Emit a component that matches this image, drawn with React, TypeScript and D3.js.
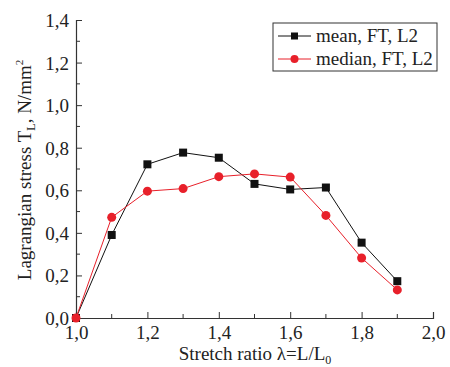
import * as d3 from 'd3';
import React, { useEffect, useRef } from 'react';

const stretch = [1.0, 1.1, 1.2, 1.3, 1.4, 1.5, 1.6, 1.7, 1.8, 1.9];
const meanFT = [0, 0.39, 0.722, 0.777, 0.753, 0.63, 0.604, 0.613, 0.354, 0.173];
const medianFT = [0, 0.473, 0.596, 0.608, 0.664, 0.677, 0.662, 0.482, 0.282, 0.132];
const xTicks = [1.0, 1.2, 1.4, 1.6, 1.8, 2.0];
const yTicks = [0, 0.2, 0.4, 0.6, 0.8, 1.0, 1.2, 1.4];
const seriesNames = ['mean, FT, L2', 'median, FT, L2'];

const fmt = (v: number) => v.toFixed(1).replace('.', ',');

export default () => {
    const ref = useRef<any>();

    useEffect(() => {
        const svg = d3.select<any, any>(ref.current);
        svg.selectAll('*').remove();
        const font = '"Liberation Serif", "Times New Roman", serif';

        const x = d3.scaleLinear().domain([1.0, 2.0]).range([76, 433]);
        const y = d3.scaleLinear().domain([0, 1.4]).range([318, 20]);

        // axes
        const axX = d3.axisBottom(x).tickValues(xTicks).tickSize(-6).tickFormat((d: any) => fmt(d));
        const axY = d3.axisLeft(y).tickValues(yTicks).tickSize(-6).tickFormat((d: any) => fmt(d));

        const gx = svg.append('g').attr('transform', 'translate(0,318)').call(axX as any);
        const gy = svg.append('g').attr('transform', 'translate(76,0)').call(axY as any);

        // minor ticks
        const minorX = d3.range(1.1, 2.0, 0.2);
        svg.append('g').selectAll('line').data(minorX).join('line')
            .attr('x1', (d: any) => x(d)).attr('x2', (d: any) => x(d))
            .attr('y1', 318).attr('y2', 314).attr('stroke', '#333');
        const minorY = d3.range(0.1, 1.4, 0.2);
        svg.append('g').selectAll('line').data(minorY).join('line')
            .attr('x1', 76).attr('x2', 80)
            .attr('y1', (d: any) => y(d)).attr('y2', (d: any) => y(d)).attr('stroke', '#333');

        [gx, gy].forEach((g: any) => {
            g.attr('font-family', font);
            g.select('.domain').attr('stroke', '#333').attr('stroke-width', 1.2);
            g.selectAll('.tick line').attr('stroke', '#333');
            g.selectAll('.tick text').attr('font-family', font).attr('font-size', 19).attr('fill', '#222');
        });
        gx.selectAll('.tick text').attr('y', 21).attr('dy', 0);
        gy.selectAll('.tick text').attr('x', -7).attr('dy', '0.34em');

        // titles
        const xt = svg.append('text').attr('x', 255).attr('y', 360).attr('text-anchor', 'middle')
            .attr('font-family', font).attr('font-size', 19).attr('fill', '#222');
        xt.append('tspan').text('Stretch ratio λ=L/L');
        xt.append('tspan').attr('font-size', 12).attr('dy', 4).text('0');

        const yt = svg.append('text').attr('transform', 'translate(31,170) rotate(-90)').attr('text-anchor', 'middle')
            .attr('font-family', font).attr('font-size', 19).attr('fill', '#222');
        yt.append('tspan').text('Lagrangian stress T');
        yt.append('tspan').attr('font-size', 12).attr('dy', 4).text('L');
        yt.append('tspan').attr('dy', -4).text(', N/mm');
        yt.append('tspan').attr('font-size', 11).attr('dy', -8).text('2');

        const line = d3.line<number>().x((_, i) => x(stretch[i])).y(d => y(d));

        // mean series
        svg.append('path').datum(meanFT).attr('d', line).attr('fill', 'none').attr('stroke', '#111').attr('stroke-width', 1);
        // median series
        svg.append('path').datum(medianFT).attr('d', line).attr('fill', 'none').attr('stroke', '#e8202a').attr('stroke-width', 1);

        svg.append('g').selectAll('rect').data(meanFT).join('rect')
            .attr('x', (_: any, i: number) => x(stretch[i]) - 4).attr('y', (d: any) => y(d) - 4)
            .attr('width', 8).attr('height', 8).attr('fill', '#111');
        svg.append('g').selectAll('circle').data(medianFT).join('circle')
            .attr('cx', (_: any, i: number) => x(stretch[i])).attr('cy', (d: any) => y(d))
            .attr('r', 4.5).attr('fill', '#e8202a');

        // legend
        const lg = svg.append('g');
        lg.append('rect').attr('x', 273).attr('y', 23).attr('width', 164).attr('height', 48)
            .attr('fill', 'white').attr('stroke', '#333').attr('stroke-width', 1);
        const colors = ['#111', '#e8202a'];
        seriesNames.forEach((name, i) => {
            const cy = 36 + i * 23;
            lg.append('line').attr('x1', 278).attr('x2', 311).attr('y1', cy).attr('y2', cy)
                .attr('stroke', colors[i]).attr('stroke-width', 1);
            if (i === 0) {
                lg.append('rect').attr('x', 291).attr('y', cy - 3.5).attr('width', 7).attr('height', 7).attr('fill', colors[i]);
            } else {
                lg.append('circle').attr('cx', 294.5).attr('cy', cy).attr('r', 4).attr('fill', colors[i]);
            }
            lg.append('text').attr('x', 316).attr('y', cy + 6).text(name)
                .attr('font-family', font).attr('font-size', 19).attr('fill', '#222');
        });
    });

    return (
        <svg ref={ref} width={450} height={367} style={{ position: 'absolute', left: 0, top: 0, background: 'white' }}></svg>
    );
};
